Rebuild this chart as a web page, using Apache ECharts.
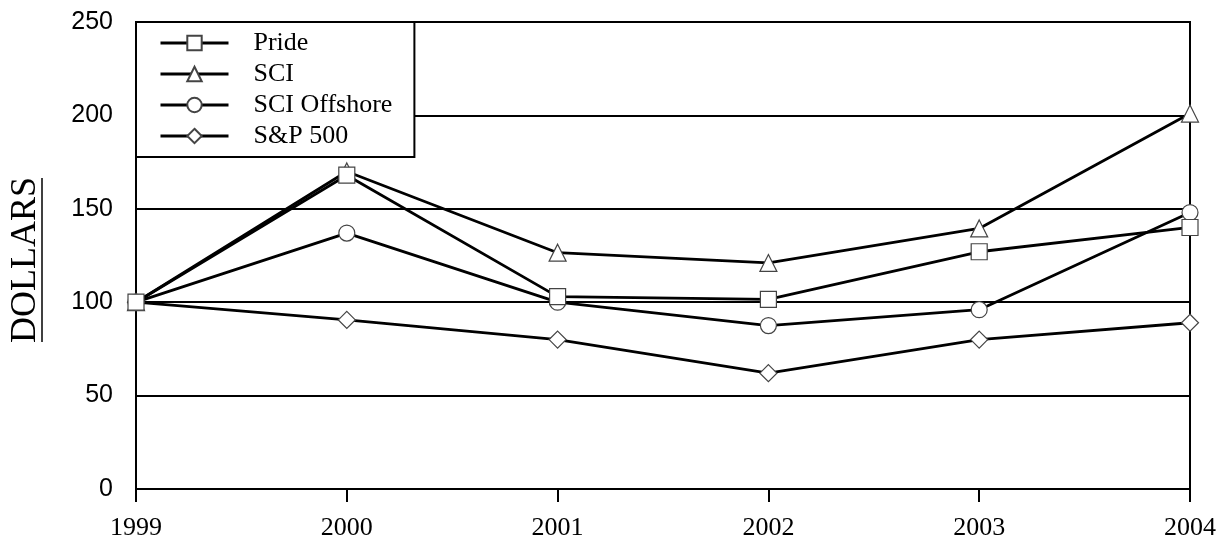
<!DOCTYPE html>
<html>
<head>
<meta charset="utf-8">
<script src="https://cdn.jsdelivr.net/npm/echarts@6/dist/echarts.min.js"></script>
<style>html,body{margin:0;padding:0;background:#fff;}#c{width:1220px;height:541px;}</style>
</head>
<body>
<div id="c"></div>
<script>
const years = ['1999', '2000', '2001', '2002', '2003', '2004'];
const pride = [100, 168, 103, 101.5, 127, 140];
const sci = [100, 170, 126.5, 121, 139.5, 201];
const sciOffshore = [100, 137, 100, 87.5, 96, 148];
const sp500 = [100, 90.5, 80, 62, 80, 89];
const yTicks = { min: 0, max: 250, interval: 50 };

const chart = echarts.init(document.getElementById('c'), null, { renderer: 'canvas' });
function mk(name, data, symbol, size, z) {
  return {
    name: name, type: 'line', data: data, symbol: symbol, symbolSize: size, z: z,
    showAllSymbol: true,
    lineStyle: { color: '#000', width: 2.8 },
    itemStyle: { color: '#fff', borderColor: '#444', borderWidth: 1.2 },
    emphasis: { disabled: true },
    animation: false
  };
}
chart.setOption({
  animation: false,
  backgroundColor: '#fff',
  grid: { left: 136, right: 30, top: 22, bottom: 51, show: true, borderColor: '#000', borderWidth: 2 },
  xAxis: {
    type: 'category', data: years, boundaryGap: false,
    axisLine: { lineStyle: { color: '#000', width: 2 } },
    axisTick: { alignWithLabel: true, length: 13, lineStyle: { color: '#000', width: 2 } },
    axisLabel: { color: '#000', fontFamily: 'Liberation Serif', fontSize: 26, margin: 26 },
    splitLine: { show: false }
  },
  yAxis: {
    type: 'value', min: yTicks.min, max: yTicks.max, interval: yTicks.interval,
    axisLine: { show: true, lineStyle: { color: '#000', width: 2 } },
    axisTick: { show: true, inside: true, length: 6, lineStyle: { color: '#000', width: 2 } },
    axisLabel: { color: '#000', fontFamily: 'Liberation Sans', fontSize: 25, margin: 23 },
    splitLine: { show: true, lineStyle: { color: '#000', width: 2 } }
  },
  legend: {
    left: 136, top: 22, orient: 'vertical',
    data: ['Pride', 'SCI', 'SCI Offshore', 'S&P 500'],
    backgroundColor: '#fff', borderColor: '#000', borderWidth: 2,
    padding: [8, 22, 8, 23],
    itemWidth: 68, itemHeight: 18, itemGap: 5,
    lineStyle: { color: '#000', width: 3 },
    textStyle: { color: '#000', fontFamily: 'Liberation Serif', fontSize: 26, lineHeight: 26, padding: [0, 0, 0, 20] },
    selectedMode: false
  },
  graphic: [
    { type: 'text', x: 26, y: 260, rotation: Math.PI / 2,
      style: { text: 'DOLLARS', fill: '#000', font: '36px "Liberation Serif"', textAlign: 'center', textVerticalAlign: 'middle' } },
    { type: 'line', shape: { x1: 42, y1: 178, x2: 42, y2: 342 }, style: { stroke: '#000', lineWidth: 1.5 } }
  ],
  series: [
    mk('S&P 500', sp500, 'diamond', 17, 2),
    mk('SCI Offshore', sciOffshore, 'circle', 16, 3),
    mk('SCI', sci, 'triangle', 17, 4),
    mk('Pride', pride, 'rect', 16, 5)
  ]
});
</script>
</body>
</html>
